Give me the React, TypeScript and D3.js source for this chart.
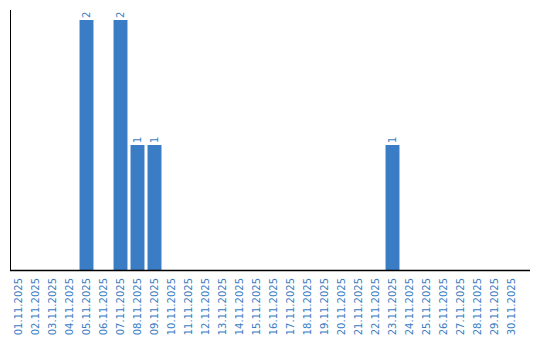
import React from "react";
import * as d3 from "d3";

const dates = Array.from({ length: 30 }, (_, i) => `${String(i + 1).padStart(2, "0")}.11.2025`);
const counts = [0,0,0,0,2,0,2,1,1,0,0,0,0,0,0,0,0,0,0,0,0,0,1,0,0,0,0,0,0,0];

const W = 540, H = 340;
const color = "#3a7dc4";

export default function App() {
  const x = d3.scaleBand<string>().domain(dates).range([10, 520]).paddingInner(0.18).paddingOuter(0.09);
  const y = d3.scaleLinear().domain([0, 2]).range([270, 20]);
  const font = "DejaVu Sans, Verdana, sans-serif";
  return (
    <svg width={W} height={H} style={{ position: "absolute", left: 0, top: 0 }}>
      <rect width={W} height={H} fill="#fff" />
      {dates.map((d, i) =>
        counts[i] > 0 ? (
          <g key={d}>
            <rect x={x(d)!} y={y(counts[i])} width={x.bandwidth()} height={y(0) - y(counts[i])} fill={color} />
            <text
              transform={`translate(${x(d)! + x.bandwidth() / 2 + 3.5},${y(counts[i]) - 2}) rotate(-90)`}
              fontFamily={font}
              fontSize={10}
              fill={color}
            >
              {counts[i]}
            </text>
          </g>
        ) : null
      )}
      <line x1={10.5} x2={10.5} y1={10} y2={270} stroke="#000" strokeWidth={1} />
      <line x1={10} x2={530} y1={270.5} y2={270.5} stroke="#000" strokeWidth={1.5} />
      {dates.map((d) => (
        <text
          key={d}
          transform={`translate(${x(d)! + x.bandwidth() / 2 + 3.5},278) rotate(-90)`}
          textAnchor="end"
          fontFamily={font}
          fontSize={10}
          fill={color}
        >
          {d}
        </text>
      ))}
    </svg>
  );
}
